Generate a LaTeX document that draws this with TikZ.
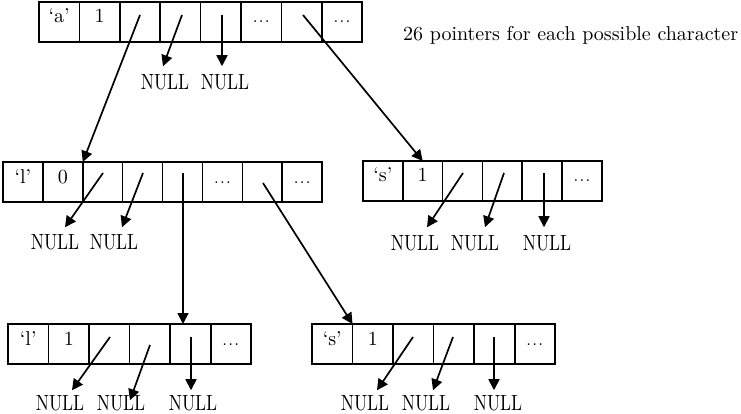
\documentclass[tikz,border=0pt]{standalone}
\usepackage{fontspec}
\setmainfont{lmroman10-regular.otf}
\usetikzlibrary{arrows.meta,calc}
\begin{document}
\begin{tikzpicture}[x=1pt,y=-1pt,
  cell/.style={draw, line width=1.5pt, minimum width=40.4pt, minimum height=40pt,
    inner sep=0pt, outer sep=0pt, anchor=north west,
    font=\fontsize{20}{24}\selectfont, text height=13pt, text depth=11pt},
  endcell/.style={cell, line width=2pt},
  nul/.style={inner sep=0pt, outer sep=0pt, font=\fontsize{22}{24}\selectfont},
  ptr/.style={line width=1.7pt, -{Triangle[length=11pt,width=11pt]}},
  note/.style={inner sep=0pt, anchor=base west, font=\fontsize{20}{24}\selectfont}
]
\newcommand{\nl}{\scalebox{0.8}[1]{NULL}}
\newcommand{\dd}{{\fontsize{17}{17}\selectfont.\kern1.3pt.\kern1.3pt.}}
\useasboundingbox (0,0) rectangle (741,414);

% ---- row A ----
\node[cell] (a1) at (39,2) {‘a’};
\node[cell] (a2) at (a1.north east) {1};
\node[cell] (a3) at (a2.north east) {};
\node[cell] (a4) at (a3.north east) {};
\node[cell] (a5) at (a4.north east) {};
\node[cell] (a6) at (a5.north east) {\dd};
\node[cell] (a7) at (a6.north east) {};
\node[endcell] (a8) at (a7.north east) {\dd};
\node[note] (txt) at (403,41) {26 pointers for each possible character};

% ---- row B left ----
\node[cell, minimum width=39.9pt] (b1) at (3,162) {‘l’};
\node[cell, minimum width=39.9pt] (b2) at (b1.north east) {0};
\node[cell, minimum width=39.9pt] (b3) at (b2.north east) {};
\node[cell, minimum width=39.9pt] (b4) at (b3.north east) {};
\node[cell, minimum width=39.9pt] (b5) at (b4.north east) {};
\node[cell, minimum width=39.9pt] (b6) at (b5.north east) {\dd};
\node[cell, minimum width=39.9pt] (b7) at (b6.north east) {};
\node[endcell, minimum width=39.9pt] (b8) at (b7.north east) {\dd};

% ---- row B right ----
\node[cell, minimum width=39.8pt] (r1) at (363,161) {‘s’};
\node[cell, minimum width=39.8pt] (r2) at (r1.north east) {1};
\node[cell, minimum width=39.8pt] (r3) at (r2.north east) {};
\node[cell, minimum width=39.8pt] (r4) at (r3.north east) {};
\node[cell, minimum width=39.8pt] (r5) at (r4.north east) {};
\node[endcell, minimum width=39.8pt] (r6) at (r5.north east) {\dd};

% ---- row C left ----
\node[cell, minimum width=40.5pt] (c1) at (8,324) {‘l’};
\node[cell, minimum width=40.5pt] (c2) at (c1.north east) {1};
\node[cell, minimum width=40.5pt] (c3) at (c2.north east) {};
\node[cell, minimum width=40.5pt] (c4) at (c3.north east) {};
\node[cell, minimum width=40.5pt] (c5) at (c4.north east) {};
\node[endcell, minimum width=40.5pt] (c6) at (c5.north east) {\dd};

% ---- row C right ----
\node[cell, minimum width=40.5pt] (s1) at (312,324) {‘s’};
\node[cell, minimum width=40.5pt] (s2) at (s1.north east) {1};
\node[cell, minimum width=40.5pt] (s3) at (s2.north east) {};
\node[cell, minimum width=40.5pt] (s4) at (s3.north east) {};
\node[cell, minimum width=40.5pt] (s5) at (s4.north east) {};
\node[endcell, minimum width=40.5pt] (s6) at (s5.north east) {\dd};

% ---- NULL labels ----
\node[nul] (na1) at (165,82) {\nl};
\node[nul] (na2) at (225,82) {\nl};
\node[nul] (nb1) at (55,242) {\nl};
\node[nul] (nb2) at (114,242) {\nl};
\node[nul] (nr1) at (415,243) {\nl};
\node[nul] (nr2) at (475,243) {\nl};
\node[nul] (nr3) at (547,243) {\nl};
\node[nul] (nc1) at (60,403) {\nl};
\node[nul] (nc2) at (121,403) {\nl};
\node[nul] (nc3) at (193,403) {\nl};
\node[nul] (ns1) at (365,403) {\nl};
\node[nul] (ns2) at (426,403) {\nl};
\node[nul] (ns3) at (498,403) {\nl};

% ---- pointer origins ----
\coordinate (pa3) at (140,15);
\coordinate (pa4) at (182,15);
\coordinate (pa5) at (222,15);
\coordinate (pa7) at (303,15);
\coordinate (pb3) at (103,173);
\coordinate (pb4) at (143,173);
\coordinate (pb5) at (183,173);
\coordinate (pb7) at (263,183);
\coordinate (pr3) at (463,173);
\coordinate (pr4) at (504,173);
\coordinate (pr5) at (544,173);
\coordinate (pc3) at (110,337);
\coordinate (pc4) at (150,345);
\coordinate (pc5) at (191,337);
\coordinate (ps3) at (413,337);
\coordinate (ps4) at (453,337);
\coordinate (ps5) at (494,337);

% ---- pointers ----
\draw[ptr] (pa3) -- (b3.north west);
\draw[ptr] (pa4) -- ([xshift=-2pt,yshift=8pt]na1.north);
\draw[ptr] (pa5) -- ([xshift=-3pt,yshift=8pt]na2.north);
\draw[ptr] (pa7) -- (r2.north);

\draw[ptr] (pb3) -- ([xshift=10pt,yshift=7pt]nb1.north);
\draw[ptr] (pb4) -- ([xshift=8pt,yshift=7pt]nb2.north);
\draw[ptr] (pb5) -- (pb5 |- c5.north);
\draw[ptr] (pb7) -- (s2.north west);

\draw[ptr] (pr3) -- ([xshift=12pt,yshift=8pt]nr1.north);
\draw[ptr] (pr4) -- ([xshift=10pt,yshift=8pt]nr2.north);
\draw[ptr] (pr5) -- ([xshift=-3pt,yshift=8pt]nr3.north);

\draw[ptr] (pc3) -- ([xshift=12pt,yshift=5pt]nc1.north);
\draw[ptr] (pc4) -- ([xshift=9pt,yshift=-5pt]nc2.north);
\draw[ptr] (pc5) -- ([xshift=-2pt,yshift=5pt]nc3.north);

\draw[ptr] (ps3) -- ([xshift=12pt,yshift=5pt]ns1.north);
\draw[ptr] (ps4) -- ([xshift=7pt,yshift=5pt]ns2.north);
\draw[ptr] (ps5) -- ([xshift=-4pt,yshift=5pt]ns3.north);
\end{tikzpicture}
\end{document}
